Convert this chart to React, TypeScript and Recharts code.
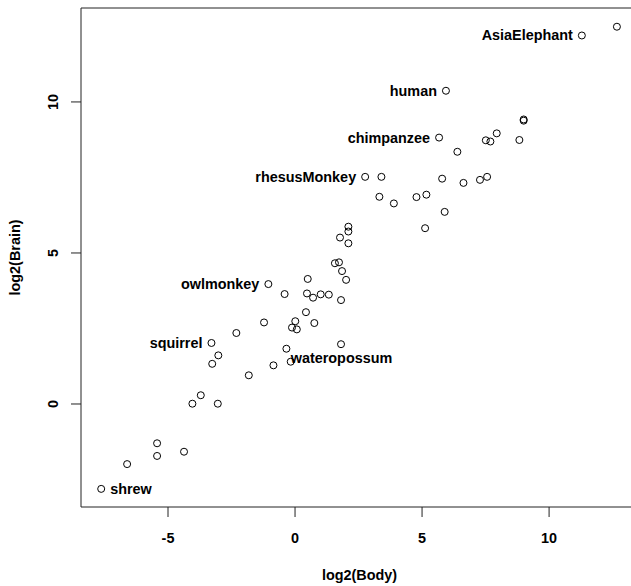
import { ScatterChart, Scatter, XAxis, YAxis, ReferenceArea } from 'recharts';

// log2 body weight / log2 brain weight
const BODY = [
  12.67, 11.29, 5.94, 9.0, 9.0, 5.67, 7.94, 7.51, 7.69, 8.83,
  6.39, 2.76, 3.4, 5.79, 6.63, 7.28, 7.56, 3.32, 3.89, 4.78,
  5.17, 5.89, 5.12, 2.1, 2.1, 2.1, 1.77, 1.57, 1.73, 1.85,
  2.01, -1.05, 0.5, -0.41, 0.47, 0.71, 1.01, 1.33, 1.81, 0.43,
  0.01, 0.76, -1.22, -0.12, 0.07, -2.31, -3.29, -3.02, -3.26, -0.34,
  1.81, -0.17, -0.85, -1.82, -3.71, -4.04, -3.04, -5.43, -5.43, -4.37,
  -6.61, -7.63,
];
const BRAIN = [
  12.49, 12.2, 10.37, 9.42, 9.38, 8.82, 8.96, 8.73, 8.69, 8.74,
  8.35, 7.52, 7.52, 7.46, 7.32, 7.42, 7.52, 6.86, 6.64, 6.85,
  6.93, 6.36, 5.82, 5.87, 5.71, 5.32, 5.51, 4.66, 4.69, 4.4,
  4.11, 3.97, 4.14, 3.64, 3.66, 3.52, 3.63, 3.62, 3.44, 3.04,
  2.74, 2.68, 2.7, 2.53, 2.47, 2.35, 2.02, 1.61, 1.33, 1.83,
  1.98, 1.4, 1.28, 0.95, 0.29, 0.01, 0.01, -1.3, -1.72, -1.58,
  -1.99, -2.81,
];
const LABEL_NAMES = ['AsiaElephant', 'human', 'chimpanzee', 'rhesusMonkey', 'owlmonkey', 'squirrel', 'wateropossum', 'shrew'];
const LABEL_INDEX = [1, 2, 5, 11, 31, 46, 51, 61];

const X_TICKS = [-5, 0, 5, 10];
const Y_TICKS = [0, 5, 10];
const X_DOMAIN = [-8.425, 13.5];
const Y_DOMAIN = [-3.41, 13.11];

const FONT = '"Liberation Sans", Arial, Helvetica, sans-serif';

const data = BODY.map((x, i) => {
  const k = LABEL_INDEX.indexOf(i);
  return { x, y: BRAIN[i], name: k >= 0 ? LABEL_NAMES[k] : '' };
});

const textStyle = { fontFamily: FONT, fontWeight: 700, fontSize: 14.4, fill: '#000' };

function Point(props: any) {
  const { cx, cy, payload } = props;
  const name = payload.name;
  let label = null;
  if (name === 'shrew') {
    label = <text x={cx + 9} y={cy + 5} style={textStyle}>{name}</text>;
  } else if (name === 'wateropossum') {
    label = <text x={cx} y={cy + 1.5} style={textStyle}>{name}</text>;
  } else if (name) {
    label = <text x={cx - 9} y={cy + 5} textAnchor="end" style={textStyle}>{name}</text>;
  }
  return (
    <g>
      <circle cx={cx} cy={cy} r={3.5} fill="none" stroke="#000" strokeWidth={1} />
      {label}
    </g>
  );
}

function XTick(props: any) {
  const { x, y, payload } = props;
  return <text x={x} y={y + 24} textAnchor="middle" style={textStyle}>{payload.value}</text>;
}

function YTick(props: any) {
  const { x, y, payload } = props;
  const bx = x - 11;
  return (
    <text x={bx} y={y} textAnchor="middle" transform={`rotate(-90, ${bx}, ${y})`} style={textStyle}>
      {payload.value}
    </text>
  );
}

function XTitle(props: any) {
  const { viewBox } = props;
  return (
    <text x={viewBox.x + viewBox.width / 2} y={579.5} textAnchor="middle" style={textStyle}>
      log2(Body)
    </text>
  );
}

function YTitle(props: any) {
  const { viewBox } = props;
  const cy = viewBox.y + viewBox.height / 2;
  return (
    <text x={20} y={cy} textAnchor="middle" transform={`rotate(-90, 20, ${cy})`} style={textStyle}>
      log2(Brain)
    </text>
  );
}

export default function App() {
  return (
    <div style={{ position: 'absolute', left: 0, top: 0, width: 631, height: 586, overflow: 'hidden', background: '#fff' }}>
      <ScatterChart width={660} height={586} margin={{ top: 8, right: 22, bottom: 0, left: 0 }}>
        <XAxis
          type="number"
          dataKey="x"
          domain={X_DOMAIN}
          ticks={X_TICKS}
          allowDataOverflow
          height={79}
          axisLine={false}
          tickSize={10}
          tickLine={{ stroke: '#222' }}
          tick={<XTick />}
          label={<XTitle />}
        />
        <YAxis
          type="number"
          dataKey="y"
          domain={Y_DOMAIN}
          ticks={Y_TICKS}
          allowDataOverflow
          width={81}
          axisLine={false}
          tickSize={10}
          tickLine={{ stroke: '#222' }}
          tick={<YTick />}
          label={<YTitle />}
        />
        <ReferenceArea
          x1={X_DOMAIN[0]}
          x2={X_DOMAIN[1]}
          y1={Y_DOMAIN[0]}
          y2={Y_DOMAIN[1]}
          fill="none"
          stroke="#222"
          strokeWidth={1}
          ifOverflow="visible"
        />
        <Scatter data={data} shape={<Point />} isAnimationActive={false} />
      </ScatterChart>
    </div>
  );
}
